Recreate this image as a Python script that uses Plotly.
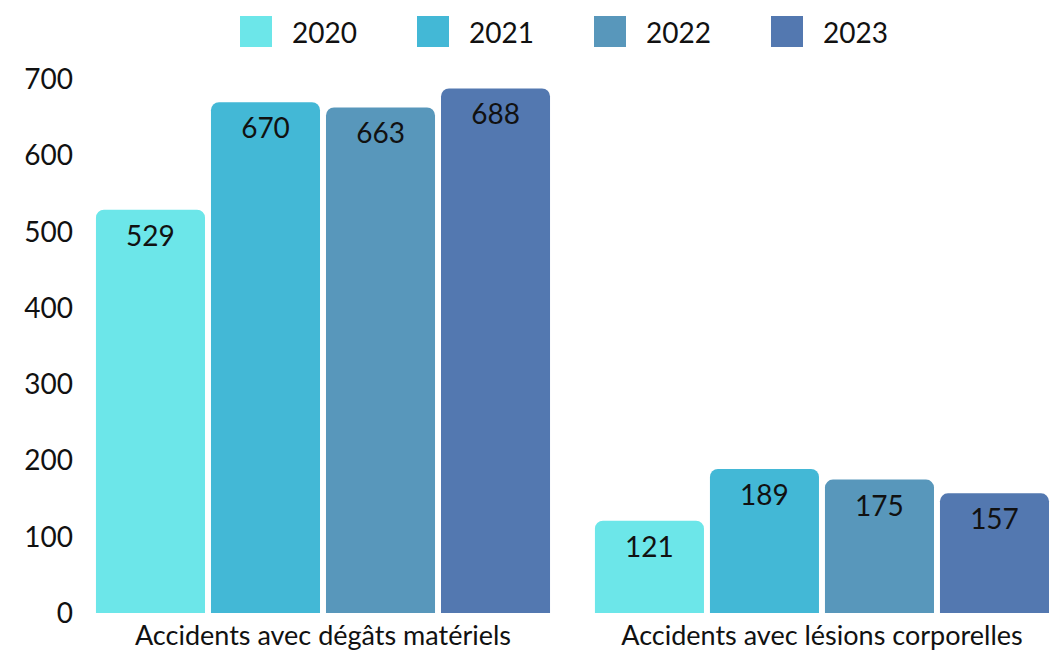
import plotly.graph_objects as go

categories = ["Accidents avec dégâts matériels", "Accidents avec lésions corporelles"]
years = ["2020", "2021", "2022", "2023"]
values_2020 = [529, 121]
values_2021 = [670, 189]
values_2022 = [663, 175]
values_2023 = [688, 157]
series = [values_2020, values_2021, values_2022, values_2023]
colors = ["#6ce6e9", "#43b8d6", "#5897bb", "#5378b0"]

FONT = "Lato, 'Open Sans', sans-serif"
TXT = "#111111"

W, H = 1050, 653
ML, MR, MT, MB = 80, 0, 64, 40
PW, PH = W - ML - MR, H - MT - MB

fig = go.Figure()
for yr, vals, col in zip(years, series, colors):
    fig.add_trace(go.Bar(
        name=yr, x=categories, y=vals,
        marker=dict(color=col, cornerradius=8, line=dict(width=0)),
        text=[str(v) for v in vals],
        textposition="inside", insidetextanchor="end",
        textfont=dict(family=FONT, size=28, color=TXT),
        textangle=0, showlegend=False,
    ))

def px2paper_x(px):
    return (px - ML) / PW

def px2paper_y(py):
    return (H - MB - py) / PH

shapes, annos = [], []
start, step = 240, 177
for i, (yr, col) in enumerate(zip(years, colors)):
    x0 = start + i * step
    shapes.append(dict(type="rect", xref="paper", yref="paper",
                       x0=px2paper_x(x0), x1=px2paper_x(x0 + 32),
                       y0=px2paper_y(47), y1=px2paper_y(16),
                       fillcolor=col, line=dict(width=0)))
    annos.append(dict(xref="paper", yref="paper", x=px2paper_x(x0 + 50), y=px2paper_y(32),
                      xanchor="left", yanchor="middle", text=yr, showarrow=False,
                      font=dict(family=FONT, size=28, color=TXT)))

fig.update_layout(
    width=W, height=H,
    margin=dict(l=ML, r=MR, t=MT, b=MB),
    barmode="group", bargap=0.078, bargroupgap=0.052,
    plot_bgcolor="white", paper_bgcolor="white",
    font=dict(family=FONT, color=TXT),
    shapes=shapes, annotations=annos,
    xaxis=dict(range=[-0.487, 1.457], showgrid=False, showline=False, zeroline=False,
               tickfont=dict(family=FONT, size=27, color=TXT), ticks="",
               ticklabelstandoff=4),
    yaxis=dict(range=[0, 720], tickvals=[0, 100, 200, 300, 400, 500, 600, 700],
               showgrid=False, showline=False, zeroline=False,
               tickfont=dict(family=FONT, size=28, color=TXT), ticks="",
               ticklabelstandoff=6),
    uniformtext=dict(mode=False),
)

fig.write_html("out.html", config={"displayModeBar": False},
               post_script="document.body.style.margin='0';document.body.style.overflow='hidden';")
